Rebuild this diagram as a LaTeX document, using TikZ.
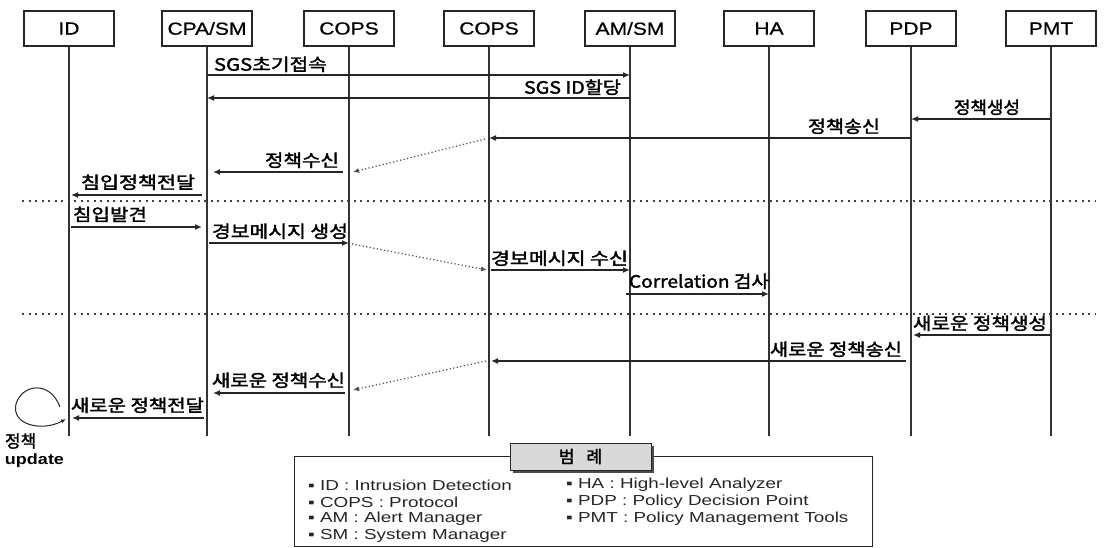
\documentclass[tikz,border=0pt]{standalone}
\usepackage{fontspec}
\usepackage{graphicx}
\usetikzlibrary{arrows.meta,calc}
\setmainfont{Liberation Sans}
\newfontfamily\krb[FakeBold=1.8]{Noto Sans CJK KR}
\newfontfamily\hdfont[FakeStretch=1.2,FakeBold=0.6]{Liberation Sans}
\newfontfamily\lgfont[FakeStretch=1.3]{Liberation Sans}
\newfontfamily\upfont[FakeStretch=1.2]{Liberation Sans Bold}
\newcommand{\klab}[2]{\resizebox{#1pt}{\height}{\krb\fontsize{17pt}{17pt}\selectfont #2}}
\begin{document}
\begin{tikzpicture}[x=1pt,y=-1pt,
  hd/.style={draw=black!85, line width=1.4pt, minimum width=90pt, minimum height=35pt, inner sep=0pt, font=\hdfont\fontsize{17.5pt}{17.5pt}\selectfont},
  life/.style={line width=1.6pt, draw=black!80},
  msg/.style={line width=1.5pt, draw=black!85, -{Latex[length=7pt,width=6pt]}},
  dmsg/.style={line width=1.2pt, draw=black!70, dash pattern=on 1.2pt off 2.4pt, -{Latex[length=6pt,width=5pt]}},
  sep/.style={line width=2pt, draw=black!75, dash pattern=on 2pt off 4.5pt},
  lab/.style={inner sep=0pt, outer sep=0pt},
  lg/.style={inner sep=0pt, anchor=west, font=\lgfont\fontsize{14.5pt}{14.5pt}\selectfont, text=black!85}]
\useasboundingbox (0,0) rectangle (1106,547);
\clip (0,0) rectangle (1106,547);
\fill[white] (0,0) rectangle (1106,547);

% header boxes
\node[hd] (id)    at (69,28.5)   {ID};
\node[hd] (cpa)   at (207,28.5)  {CPA/SM};
\node[hd] (copsa) at (349,28.5)  {COPS};
\node[hd] (copsb) at (489,28.5)  {COPS};
\node[hd] (am)    at (630,28.5)  {AM/SM};
\node[hd] (ha)    at (769,28.5)  {HA};
\node[hd] (pdp)   at (911,28.5)  {PDP};
\node[hd] (pmt)   at (1051,28.5) {PMT};

% lifelines
\foreach \n in {id,cpa,copsa,copsb,am,ha,pdp,pmt}
  \draw[life] (\n.south) -- (\n |- 0,436);

% separators
\draw[sep] (22,201) -- (1096,201);
\draw[sep] (22,314) -- (1096,314);

% messages
\draw[msg] (cpa |- 0,75) -- (am |- 0,75);
\node[lab, anchor=south west] (t1) at (214,72) {\klab{113}{SGS초기접속}};

\draw[msg] (am |- 0,98) -- (cpa |- 0,98);
\node[lab, anchor=south east] (t2) at (621,95) {\klab{97}{SGS ID할당}};

\draw[msg] (pmt |- 0,119) -- (pdp |- 0,119);
\node[lab, anchor=south] (t3) at (987,115) {\klab{66}{정책생성}};

\draw[msg] (pdp |- 0,138) -- (copsb |- 0,138);
\node[lab, anchor=south east] (t4) at (880,134) {\klab{72}{정책송신}};

\draw[dmsg] ($(copsb |- 0,139)+(-4,0)$) -- ($(copsa |- 0,172)+(4,0)$);

\draw[msg] ($(copsa |- 0,172)+(-6,0)$) -- ($(cpa |- 0,172)+(6,0)$);
\node[lab, anchor=south east] (t5) at (339,168) {\klab{74}{정책수신}};

\draw[msg] ($(cpa |- 0,195)+(-5,0)$) -- ($(id |- 0,195)+(2,0)$);
\node[lab, anchor=south east] (t6) at (195,190) {\klab{114}{침입정책전달}};

\draw[msg] ($(id |- 0,227)+(2,0)$) -- ($(cpa |- 0,227)+(-5,0)$);
\node[lab, anchor=south west] (t7) at (73,222) {\klab{74}{침입발견}};

\draw[msg] ($(cpa |- 0,243)+(2,0)$) -- (copsa |- 0,243);
\node[lab, anchor=south west] (t8) at (212,239) {\klab{136}{경보메시지 생성}};

\draw[dmsg] ($(copsa |- 0,244)+(3,0)$) -- ($(copsb |- 0,270)+(-2,0)$);

\draw[msg] ($(copsb |- 0,270)+(2,0)$) -- (am |- 0,270);
\node[lab, anchor=south west] (t9) at (491,266) {\klab{137}{경보메시지 수신}};

\draw[msg] ($(am |- 0,294)+(-4,0)$) -- (ha |- 0,294);
\node[lab, anchor=south west] (t10) at (629,289) {\klab{140}{Correlation 검사}};

\draw[msg] (pmt |- 0,335) -- ($(pdp |- 0,335)+(2,0)$);
\node[lab, anchor=south west] (t11) at (913,331) {\klab{134}{새로운 정책생성}};

\draw[msg] ($(pdp |- 0,361)+(-5,0)$) -- ($(copsb |- 0,361)+(2,0)$);
\node[lab, anchor=south east] (t12) at (902,357) {\klab{132}{새로운 정책송신}};

\draw[dmsg] ($(copsb |- 0,361)+(-3,0)$) -- ($(copsa |- 0,390)+(4,0)$);

\draw[msg] ($(copsa |- 0,393)+(-4,0)$) -- ($(cpa |- 0,393)+(6,0)$);
\node[lab, anchor=south east] (t13) at (345,388) {\klab{133}{새로운 정책수신}};

\draw[msg] ($(cpa |- 0,418)+(-3,0)$) -- ($(id |- 0,418)+(3,0)$);
\node[lab, anchor=south east] (t14) at (204,413) {\klab{133}{새로운 정책전달}};

% self loop at ID
\draw[line width=1pt, black!85, -{Latex[length=5pt,width=4pt]}]
  (60,407) .. controls (50,380) and (22,384) .. (16,404)
  .. controls (11,425) and (42,432) .. ($(id |- 0,419)+(-3,0)$);
\node[lab, anchor=west] (u1) at (5,441) {\krb\fontsize{17pt}{17pt}\selectfont 정책};
\node[lab, anchor=west] (u2) at (5,461) {\upfont\fontsize{15pt}{15pt}\selectfont update};

% legend
\draw[line width=1pt, black!85] (294,456) rectangle (872,546);
\fill[black!70] (513,446) rectangle (654,473);
\node[draw=black!85, fill=black!15, line width=1pt, minimum width=141pt, minimum height=27pt, inner sep=0pt] (lgt) at (580.5,456.5)
  {\krb\fontsize{17pt}{17pt}\selectfont 범\hspace{12pt}례};
\node[lg] (l1) at (308,485) {▪ ID : Intrusion Detection};
\node[lg] (l2) at (308,502) {▪ COPS : Protocol};
\node[lg] (l3) at (308,519) {▪ AM : Alert Manager};
\node[lg] (l4) at (308,536) {▪ SM : System Manager};
\node[lg] (r1) at (566,485) {▪ HA : High-level Analyzer};
\node[lg] (r2) at (566,502) {▪ PDP : Policy Decision Point};
\node[lg] (r3) at (566,519) {▪ PMT : Policy Management Tools};
\end{tikzpicture}
\end{document}
